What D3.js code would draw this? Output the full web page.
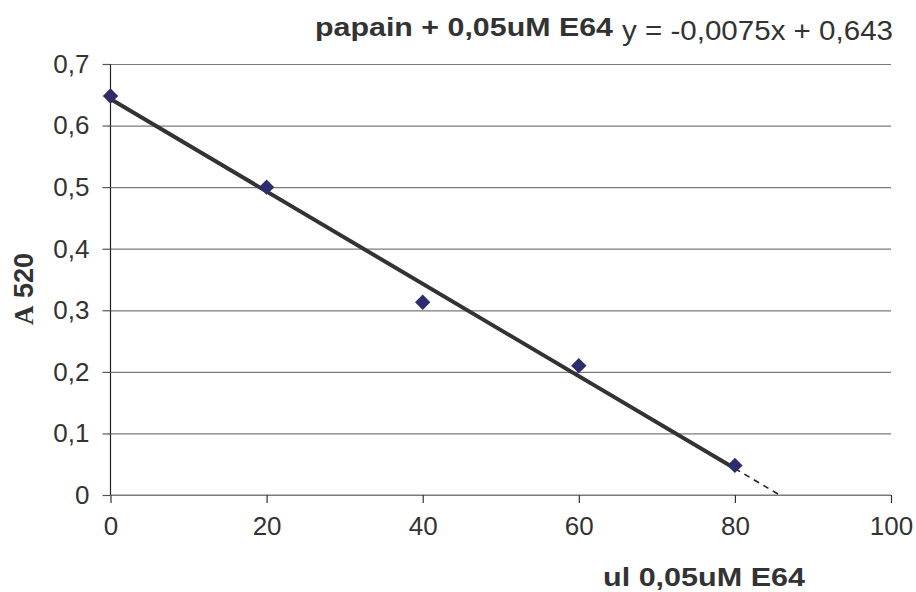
<!DOCTYPE html>
<html>
<head>
<meta charset="utf-8">
<script src="https://cdn.jsdelivr.net/npm/d3@7"></script>
<style>
  body { margin: 0; background: #fff; }
  svg { display: block; font-family: Arial, "Liberation Sans", sans-serif; }
</style>
</head>
<body>
<div id="chart"></div>
<script>
/* Data */
const xValues = [0, 20, 40, 60, 80];
const yValues = [0.648, 0.50, 0.313, 0.21, 0.048];
const xTicks = [0, 20, 40, 60, 80, 100];
const yTicks = [0, 0.1, 0.2, 0.3, 0.4, 0.5, 0.6, 0.7];
const trendSlope = -0.0075;
const trendIntercept = 0.643;

const titleText = "papain + 0,05uM E64";
const equationText = "y = -0,0075x + 0,643";
const xTitle = "ul 0,05uM E64";

/* Layout */
const W = 916, H = 592;
const margin = { top: 64, right: 25, bottom: 97, left: 110.5 };
const width = W - margin.left - margin.right;
const height = H - margin.top - margin.bottom;

const svg = d3.select("#chart").append("svg")
    .attr("width", W)
    .attr("height", H);
const g = svg.append("g")
    .attr("transform", `translate(${margin.left},${margin.top})`);

/* Scales */
const x = d3.scaleLinear().domain([0, 100]).range([0, width]);
const y = d3.scaleLinear().domain([0, 0.7]).range([height, 0]);
const fmt = d => d3.format(".1f")(d).replace(".", ",");

/* Gridlines */
g.append("g")
    .call(d3.axisLeft(y).tickValues(yTicks).tickSize(-width).tickFormat(""))
    .call(s => s.select(".domain").remove())
    .selectAll("line").attr("stroke", "#7a7a7a").attr("stroke-width", 1.2);

/* Y axis */
const yAxis = g.append("g")
    .call(d3.axisLeft(y).tickValues(yTicks).tickSize(8).tickPadding(13).tickFormat(d => d === 0 ? "0" : fmt(d)));
yAxis.select(".domain").attr("stroke", "#222").attr("stroke-width", 1.2).attr("d", `M0,0V${height}`);
yAxis.selectAll("line").attr("stroke", "#555").attr("stroke-width", 1.2);
yAxis.selectAll("text").attr("fill", "#333").style("font-size", "26px");

/* X axis */
const xAxis = g.append("g")
    .attr("transform", `translate(0,${height})`)
    .call(d3.axisBottom(x).tickValues(xTicks).tickSize(8).tickPadding(14).tickFormat(d3.format("d")));
xAxis.select(".domain").attr("stroke", "#7a7a7a").attr("stroke-width", 1.2).attr("d", `M0,0H${width}`);
xAxis.selectAll("line").attr("stroke", "#333").attr("stroke-width", 1.2);
xAxis.selectAll("text").attr("fill", "#333").style("font-size", "26px");

/* Trend line: solid over the data, dashed forecast to y = 0 */
const xEnd = d3.max(xValues);
const xZero = -trendIntercept / trendSlope;
const f = v => trendSlope * v + trendIntercept;

g.append("line")
    .attr("x1", x(xEnd)).attr("y1", y(f(xEnd)))
    .attr("x2", x(xZero)).attr("y2", y(0))
    .attr("stroke", "#222").attr("stroke-width", 1.6)
    .attr("stroke-dasharray", "6 5");

g.append("line")
    .attr("x1", x(0)).attr("y1", y(f(0)))
    .attr("x2", x(xEnd)).attr("y2", y(f(xEnd)))
    .attr("stroke", "#333").attr("stroke-width", 4);

/* Points */
g.selectAll(".pt")
    .data(xValues.map((v, i) => ({ x: v, y: yValues[i] })))
    .join("path")
    .attr("class", "pt")
    .attr("d", d3.symbol().type(d3.symbolDiamond2).size(150))
    .attr("transform", d => `translate(${x(d.x)},${y(d.y)})`)
    .attr("fill", "#2d2d6e");

/* Title and equation */
svg.append("text")
    .attr("x", 315).attr("y", 36)
    .attr("fill", "#333")
    .style("font-size", "26px").style("font-weight", "bold")
    .attr("textLength", 298).attr("lengthAdjust", "spacingAndGlyphs")
    .text(titleText);

svg.append("text")
    .attr("x", 622).attr("y", 40)
    .attr("fill", "#333")
    .style("font-size", "27px")
    .attr("textLength", 271).attr("lengthAdjust", "spacingAndGlyphs")
    .text(equationText);

/* Axis titles */
svg.append("text")
    .attr("x", 603).attr("y", 586)
    .attr("fill", "#333")
    .style("font-size", "26px").style("font-weight", "bold")
    .attr("textLength", 202).attr("lengthAdjust", "spacingAndGlyphs")
    .text(xTitle);

const yt = svg.append("text")
    .attr("transform", "translate(33,289) rotate(-90)")
    .attr("text-anchor", "middle")
    .attr("fill", "#333")
    .style("font-size", "27px").style("font-weight", "bold");
yt.append("tspan").style("font-family", "'Liberation Serif', serif").text("A");
yt.append("tspan").text(" 520");
</script>
</body>
</html>
